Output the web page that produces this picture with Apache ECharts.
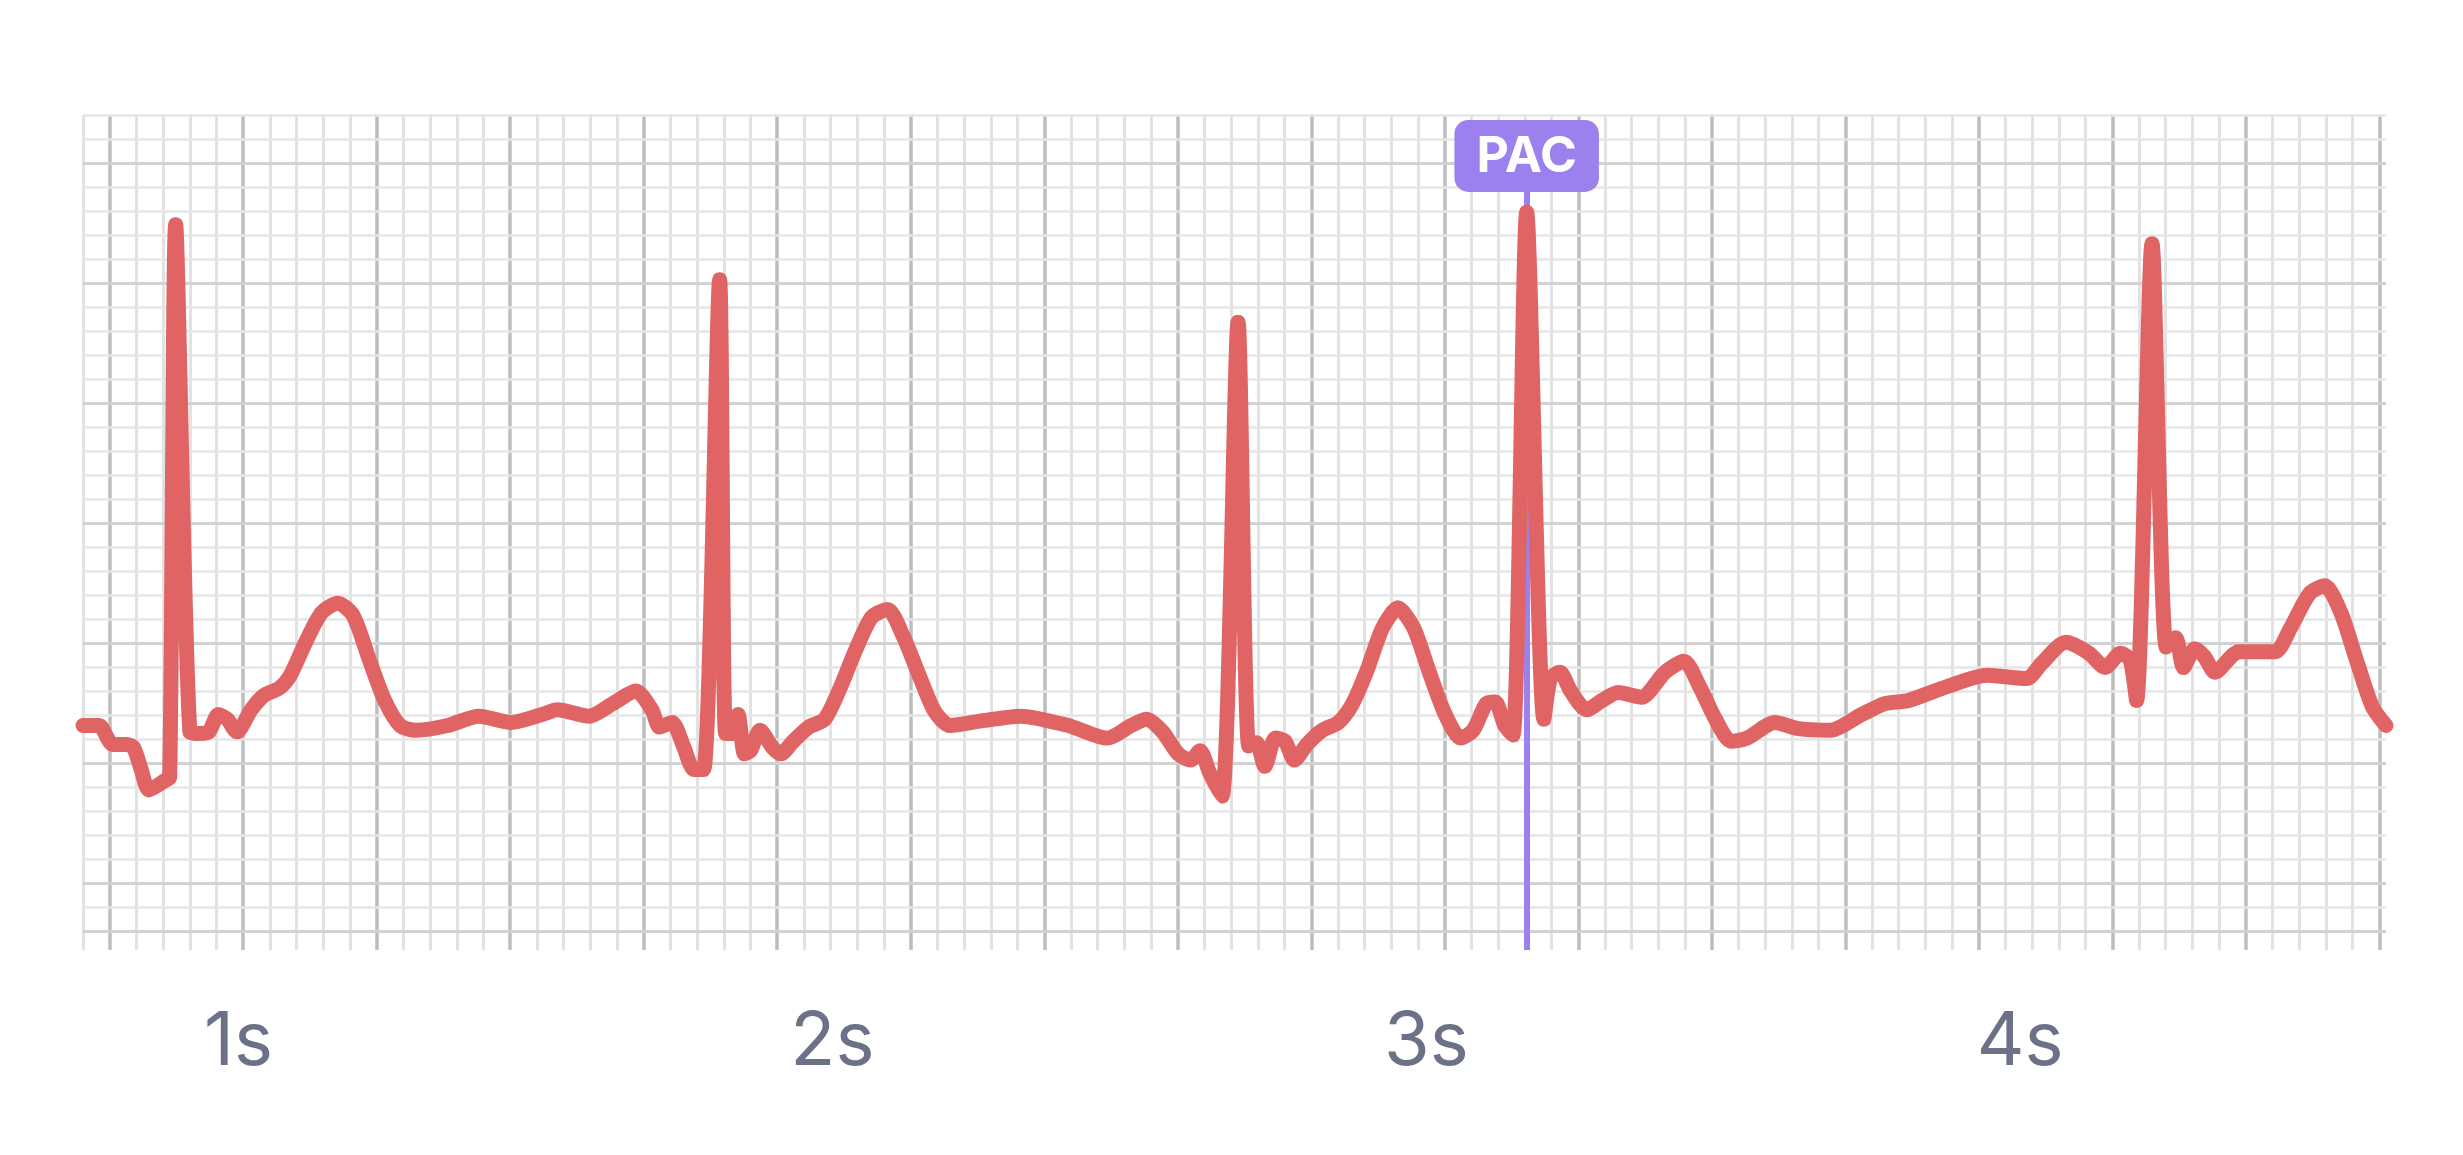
<!DOCTYPE html>
<html>
<head>
<meta charset="utf-8">
<script src="https://cdn.jsdelivr.net/npm/echarts@6/dist/echarts.min.js"></script>
<style>
  html, body { margin: 0; padding: 0; background: #fff; }
  #chart { width: 2463px; height: 1155px; }
</style>
</head>
<body>
<div id="chart"></div>
<script>
// ECG trace: time in seconds, amplitude in arbitrary units (0 = bottom of strip)
const ecgTime = [
  0.738, 0.765, 0.788, 0.810, 0.823, 0.836, 0.849, 0.876, 0.884, 0.894,
  0.918, 0.934, 0.950, 0.966, 0.981, 0.997, 1.021, 1.042, 1.069, 1.087,
  1.114, 1.140, 1.167, 1.193, 1.220, 1.246, 1.272, 1.299, 1.352, 1.405,
  1.458, 1.511, 1.537, 1.590, 1.630, 1.669, 1.696, 1.709, 1.730, 1.749,
  1.767, 1.783, 1.810, 1.820, 1.831, 1.841, 1.852, 1.862, 1.878, 1.899,
  1.913, 1.934, 1.960, 1.987, 2.013, 2.040, 2.066, 2.093, 2.119, 2.146,
  2.172, 2.198, 2.251, 2.317, 2.397, 2.463, 2.503, 2.529, 2.556, 2.582,
  2.603, 2.619, 2.635, 2.656, 2.683, 2.701, 2.714, 2.728, 2.746, 2.762,
  2.778, 2.799, 2.825, 2.852, 2.873, 2.899, 2.926, 2.952, 2.979, 3.005,
  3.032, 3.058, 3.079, 3.101, 3.116, 3.132, 3.146, 3.169, 3.198, 3.209,
  3.225, 3.243, 3.270, 3.296, 3.323, 3.362, 3.402, 3.434, 3.460, 3.487,
  3.513, 3.540, 3.587, 3.627, 3.680, 3.733, 3.772, 3.812, 3.878, 3.944,
  4.011, 4.037, 4.077, 4.116, 4.143, 4.169, 4.185, 4.196, 4.222, 4.246,
  4.262, 4.275, 4.294, 4.310, 4.328, 4.368, 4.429, 4.455, 4.487, 4.513,
  4.540, 4.566, 4.593, 4.616
];
const ecgValue = [
  143, 143, 131, 131, 129, 115, 102, 108, 110, 462,
  139, 138, 139, 150, 147, 139, 153, 162, 167, 175,
  197, 215, 221, 213, 185, 159, 143, 140, 143, 149,
  145, 150, 153, 149, 157, 165, 153, 142, 145, 130,
  115, 115, 427, 138, 138, 150, 125, 127, 140, 129,
  125, 133, 142, 147, 167, 192, 212, 217, 200, 175,
  152, 143, 146, 149, 143, 135, 143, 147, 139, 125,
  121, 127, 113, 98, 400, 130, 132, 117, 135, 133,
  121, 131, 140, 145, 155, 177, 205, 218, 205, 177,
  150, 135, 140, 157, 158, 143, 137, 470, 147, 173,
  177, 165, 153, 159, 164, 161, 177, 184, 168, 147,
  133, 135, 145, 141, 140, 150, 157, 159, 168, 175,
  173, 183, 196, 189, 180, 189, 185, 159, 450, 193,
  199, 180, 192, 187, 177, 190, 190, 205, 227, 232,
  215, 185, 155, 143
];
const timeLabels = [1, 2, 3, 4];
const pacTime = 3.169;
const pacLabel = 'PAC';

const chart = echarts.init(document.getElementById('chart'));

// ECG paper grid, in small-box units
const boxesX = 86.25, boxesY = 34.8;
const gridLines = [];
for (let i = 0; i <= 86; i++) {
  const major = (i - 1) % 5 === 0;
  gridLines.push({ xAxis: i, lineStyle: { color: major ? '#bdbdbd' : '#e2e2e2', width: major ? 3.5 : 3, type: 'solid' } });
}
for (let j = 0; j <= 34; j++) {
  const major = (j - 2) % 5 === 0 || j === 34;
  gridLines.push({ yAxis: j, lineStyle: { color: major ? '#d2d2d2' : '#e6e6e6', width: major ? 3 : 2.5, type: 'solid' } });
}

chart.setOption({
  animation: false,
  grid: { left: 83, right: 77, top: 115, bottom: 205 },
  xAxis: [{
    type: 'value', min: 0.738, max: 4.616,
    axisLine: { show: false }, axisTick: { show: false }, splitLine: { show: false },
    axisLabel: {
      customValues: timeLabels, formatter: v => v + 's', margin: 56,
      fontFamily: 'Inter, sans-serif', fontSize: 74, color: '#6b7186'
    }
  }, {
    type: 'value', min: 0, max: boxesX, show: false
  }],
  yAxis: [{
    type: 'value', min: 0, max: 532, show: false
  }, {
    type: 'value', min: 0, max: boxesY, inverse: true, show: false
  }],
  series: [{
    type: 'line', xAxisIndex: 1, yAxisIndex: 1, data: [], silent: true, z: 1,
    markLine: { silent: true, symbol: 'none', label: { show: false }, data: gridLines }
  }, {
    type: 'line',
    data: ecgTime.map((t, i) => [t, ecgValue[i]]),
    showSymbol: false,
    symbol: 'none',
    smooth: 0.25,
    silent: true,
    lineStyle: { color: '#e06464', width: 15, cap: 'round', join: 'round' },
    z: 10
  }, {
    type: 'line', data: [], z: 12,
    markLine: {
      silent: true, symbol: 'none',
      lineStyle: { color: '#9b80ee', width: 6, type: 'solid' },
      label: {
        show: true, position: 'end', distance: 0, formatter: pacLabel,
        color: '#fff', fontFamily: 'Inter, sans-serif', fontWeight: 'bold', fontSize: 50,
        backgroundColor: '#9b80ee', borderRadius: 14, padding: [12, 22, 10, 22]
      },
      data: [[{ coord: [pacTime, 0] }, { coord: [pacTime, 483] }]]
    }
  }]
});
</script>
</body>
</html>
